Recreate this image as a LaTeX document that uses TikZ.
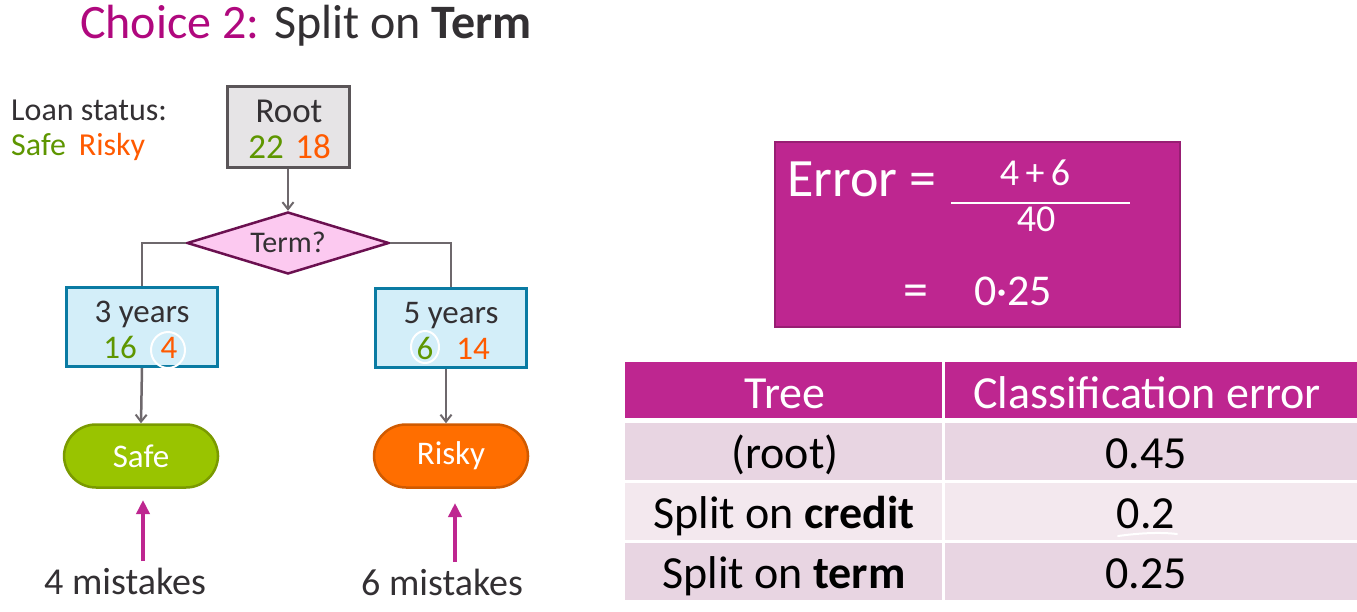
\documentclass[tikz,border=0pt]{standalone}
\usepackage{fontspec}
\setmainfont{Carlito}
\usetikzlibrary{shapes.geometric,arrows.meta}
\definecolor{magenta}{HTML}{BE2690}
\definecolor{titlemag}{HTML}{B0087E}
\definecolor{darktext}{HTML}{333033}
\definecolor{safegreen}{HTML}{5E9600}
\definecolor{riskyorange}{HTML}{FF5A00}
\definecolor{rootfill}{HTML}{E6E4E6}
\definecolor{rootdraw}{HTML}{5A5558}
\definecolor{diafill}{HTML}{FCC9F0}
\definecolor{diadraw}{HTML}{6B1050}
\definecolor{leaffill}{HTML}{D3EEF9}
\definecolor{leafdraw}{HTML}{0A7BA3}
\definecolor{greenfill}{HTML}{99C400}
\definecolor{greendraw}{HTML}{7A9A00}
\definecolor{orangefill}{HTML}{FF6E00}
\definecolor{orangedraw}{HTML}{D05A00}
\definecolor{rowA}{HTML}{E8D5E2}
\definecolor{rowB}{HTML}{F3E8EE}
\definecolor{conn}{HTML}{6E686C}
\tikzset{
  fs/.style={font=\fontsize{#1}{#1}\selectfont},
  txt/.style={anchor=base,inner sep=0pt,fs=#1},
  rootbox/.style={draw=rootdraw,fill=rootfill,line width=3pt,minimum width=122pt,minimum height=81pt,inner sep=0pt},
  leafbox/.style={draw=leafdraw,fill=leaffill,line width=3pt,minimum width=151pt,minimum height=79pt,inner sep=0pt},
  termbox/.style={rounded corners=32pt,line width=2.5pt,minimum width=154pt,minimum height=63pt,inner sep=0pt,text=white},
  conline/.style={draw=conn,line width=2.5pt},
  conarrow/.style={conline,-{Straight Barb[length=7pt,width=11pt,line width=2pt]}},
  magarrow/.style={draw=magenta,line width=4pt,-{Triangle[length=14pt,width=13pt]}},
  cell/.style={inner sep=0pt,anchor=base,fs=46},
  hand/.style={inner sep=0pt,anchor=base,text=white,fs=#1},
}
\begin{document}
\begin{tikzpicture}[x=1pt,y=-1pt]
\useasboundingbox (0,0) rectangle (1357,611);
\fill[white] (0,0) rectangle (1357,611);
% title
\node[anchor=base west,fs=48,inner sep=0pt] (title) at (80,38) {\textcolor{titlemag}{Choice 2:} \textcolor{darktext}{Split on \textbf{Term}}};
% legend
\node[anchor=base west,fs=32,inner sep=0pt,text=darktext] (legend1) at (11,120) {Loan status:};
\node[anchor=base west,fs=32,inner sep=0pt] (legend2) at (11,155) {\textcolor{safegreen}{Safe}\hspace{13pt}\textcolor{riskyorange}{Risky}};
% root
\node[rootbox] (root) at (288,127) {};
\node[txt=35,text=darktext] (rootlbl) at (289,122) {Root};
\node[txt=35,text=safegreen] (root22) at (266,158) {22};
\node[txt=35,text=riskyorange] (root18) at (313,158) {18};
% diamond
\node[diamond,aspect=3.3,draw=diadraw,fill=diafill,line width=2.5pt,inner sep=1pt,minimum width=202pt,minimum height=62pt] (term) at (288,243) {};
\node[txt=30,text=darktext] (termlbl) at (288,252) {Term?};
% leaves
\node[leafbox] (three) at (142,327) {};
\node[txt=33,text=darktext] (threelbl) at (142,322) {3 years};
\node[txt=33,text=safegreen] (three16) at (120,358) {16};
\node[txt=33,text=riskyorange] (three4) at (169,358) {4};
\node[leafbox] (five) at (451,328) {};
\node[txt=33,text=darktext] (fivelbl) at (451,323) {5 years};
\node[txt=33,text=safegreen] (five6) at (425,359) {6};
\node[txt=33,text=riskyorange] (five14) at (473,359) {14};
% terminals
\node[termbox,draw=greendraw,fill=greenfill,fs=33] (safe) at (141,456) {Safe};
\node[termbox,draw=orangedraw,fill=orangefill,fs=33] (risky) at (451,456) {Risky};
% connectors
\draw[conarrow] (root.south) -- (term.north);
\draw[conline] (term.west) -| (three.north);
\draw[conline] (term.east) -| (five.north);
\draw[conarrow] (three.south) -- (safe.north);
\draw[conarrow] (five.south -| 446,0) -- (safe.north -| 446,0);
% circles
\draw[white,line width=2pt] (168,350) ellipse (17pt and 18pt);
\draw[white,line width=2pt] (425,347) ellipse (14pt and 16pt);
% mistakes
\node[txt=38,text=darktext] (m4) at (125,594) {4 mistakes};
\node[txt=38,text=darktext] (m6) at (442,595) {6 mistakes};
\coordinate (m4top) at (143,561);
\coordinate (m6top) at (455,562);
\draw[magarrow] (m4top) -- (143,500);
\draw[magarrow] (m6top) -- (455,503);
% error box
\node[draw=magenta!80!black,fill=magenta,line width=1.5pt,minimum width=405pt,minimum height=185pt,inner sep=0pt] (errbox) at (977.5,234.5) {};
\node[anchor=base west,fs=54,text=white,inner sep=0pt] (errlbl) at (787,196) {Error =};
\node[hand=38] (num) at (1035,185) {4\,+\,6};
\draw[white,line width=2pt] (951,203) -- (1130,203);
\node[hand=38] (den) at (1036,231) {40};
\node[hand=50] (eq2) at (916,306) {=};
\node[hand=44] (val) at (1013,305) {0·25};
% table
\fill[magenta] (625,362) rectangle (942,418);
\fill[magenta] (945,362) rectangle (1357,418);
\fill[rowA] (625,423) rectangle (942,480);
\fill[rowA] (945,423) rectangle (1357,480);
\fill[rowB] (625,483) rectangle (942,540);
\fill[rowB] (945,483) rectangle (1357,540);
\fill[rowA] (625,543) rectangle (942,600);
\fill[rowA] (945,543) rectangle (1357,600);
\node[cell,text=white] (h1) at (785,408) {Tree};
\node[cell,text=white] (h2) at (1147,408) {Classification error};
\node[cell,text=black] (r1a) at (785,468) {(root)};
\node[cell,text=black] (r1b) at (1146,468) {0.45};
\node[cell,text=black] (r2a) at (784,528) {Split on \textbf{credit}};
\node[cell,text=black] (r2b) at (1146,528) {0.2};
\node[cell,text=black] (r3a) at (784,588) {Split on \textbf{term}};
\node[cell,text=black] (r3b) at (1146,588) {0.25};
\draw[white,line width=2pt,line cap=round] (1118,536) .. controls (1140,533) and (1160,532) .. (1177,534);
\end{tikzpicture}
\end{document}
